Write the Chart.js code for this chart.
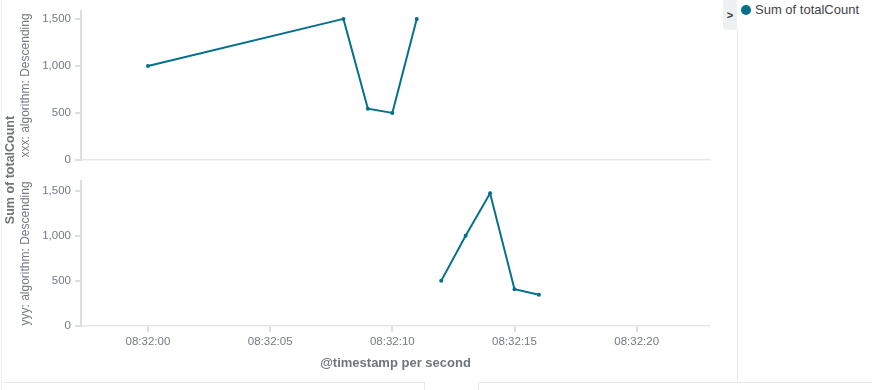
<!DOCTYPE html>
<html>
<head>
<meta charset="utf-8">
<script src="https://cdn.jsdelivr.net/npm/chart.js@4/dist/chart.umd.min.js"></script>
<style>
  body { margin: 0; background: #fff; font-family: "Liberation Sans", Arial, sans-serif; }
  #wrap { position: relative; width: 872px; height: 390px; overflow: hidden; background: #fff; }
  #topBox { position: absolute; left: 0; top: 0; width: 722px; height: 172px; }
  #botBox { position: absolute; left: 0; top: 170px; width: 722px; height: 220px; }
  .bar { position: absolute; background: #e6e8ea; }
  #sumLabel {
    position: absolute; left: 10px; top: 170px; white-space: nowrap;
    transform: translate(-50%, -50%) rotate(-90deg);
    font-weight: bold; font-size: 12.5px; color: #6f757b;
  }
  #toggle {
    position: absolute; left: 723px; top: 0; width: 14px; height: 30px;
    background: #eef0f2; border-bottom-left-radius: 4px;
    font-size: 11px; font-weight: bold; color: #333; text-align: center; line-height: 30px;
  }
  #legend { position: absolute; left: 741px; top: 2px; font-size: 13px; color: #3f4449; white-space: nowrap; }
  #legend .dot { display: inline-block; width: 10px; height: 10px; border-radius: 50%; vertical-align: -1px; margin-right: 4px; }
</style>
</head>
<body>
<div id="wrap">
  <div id="topBox"><canvas id="topChart"></canvas></div>
  <div id="botBox"><canvas id="botChart"></canvas></div>
  <div id="sumLabel">Sum of totalCount</div>
  <div id="toggle">&gt;</div>
  <div id="legend"></div>
  <div class="bar" style="left:1px;top:0;width:1px;height:390px;background:#eef0f2"></div>
  <div class="bar" style="left:737px;top:30px;width:1px;height:352px;"></div>
  <div class="bar" style="left:2px;top:382px;width:422px;height:1px;"></div>
  <div class="bar" style="left:424px;top:382px;width:1px;height:8px;"></div>
  <div class="bar" style="left:478px;top:382px;width:1px;height:8px;"></div>
  <div class="bar" style="left:478px;top:382px;width:394px;height:1px;"></div>
</div>
<script>
// data
var seriesName = 'Sum of totalCount';
var rowLabels = ['xxx: algorithm: Descending', 'yyy: algorithm: Descending'];
var topTimes = ['08:32:00', '08:32:08', '08:32:09', '08:32:10', '08:32:11'];
var topValues = [1000, 1500, 545, 500, 1500];
var bottomTimes = ['08:32:12', '08:32:13', '08:32:14', '08:32:15', '08:32:16'];
var bottomValues = [500, 1000, 1470, 407, 346];
var xTicks = ['08:32:00', '08:32:05', '08:32:10', '08:32:15', '08:32:20'];
var yTicks = [0, 500, 1000, 1500];

var lineColor = '#04708e';
var textColor = '#737a82';
var axisGrey = '#dcdfe2';
Chart.defaults.font.family = '"Liberation Sans", Arial, sans-serif';

var base = toSec('08:32:00');
function toSec(t) {
  var p = t.split(':');
  return (+p[0]) * 3600 + (+p[1]) * 60 + (+p[2]);
}
function fmt(s) {
  var v = base + s;
  var h = Math.floor(v / 3600), m = Math.floor(v / 60) % 60, sec = v % 60;
  return [h, m, sec].map(function (n) { return (n < 10 ? '0' : '') + n; }).join(':');
}
function points(times, vals) {
  return times.map(function (t, i) { return { x: toSec(t) - base, y: vals[i] }; });
}

var xMin = -2.74, xMax = 23;

function makeChart(id, times, vals, rowLabel, yMax, isBottom) {
  return new Chart(document.getElementById(id), {
    type: 'line',
    data: {
      datasets: [{
        label: seriesName,
        data: points(times, vals),
        borderColor: lineColor,
        backgroundColor: lineColor,
        borderWidth: 2,
        pointRadius: 2,
        pointBorderWidth: 0,
        tension: 0
      }]
    },
    options: {
      responsive: true,
      maintainAspectRatio: false,
      animation: false,
      layout: { padding: isBottom ? { top: 6, right: 12, bottom: 0, left: 0 } : { top: 10, right: 12, bottom: 12, left: 0 } },
      plugins: { legend: { display: false }, tooltip: { enabled: false } },
      scales: {
        x: {
          type: 'linear',
          min: xMin,
          max: xMax,
          afterBuildTicks: function (s) { s.ticks = xTicks.map(function (t) { return { value: toSec(t) - base }; }); },
          afterFit: function (s) { s.height = isBottom ? 64 : 0; },
          border: { display: true, color: '#e6e8ea', width: 1.5 },
          grid: { display: isBottom, drawOnChartArea: false, tickLength: 6, color: axisGrey, lineWidth: 2 },
          ticks: {
            display: isBottom,
            padding: 3,
            color: textColor,
            font: { size: 11.5 },
            maxRotation: 0,
            callback: function (v) { return fmt(v); }
          },
          title: {
            display: isBottom,
            text: '@timestamp per second',
            color: '#6f757b',
            font: { size: 13, weight: 'bold' },
            padding: { top: 0, bottom: 19 }
          }
        },
        y: {
          min: 0,
          max: yMax,
          afterBuildTicks: function (s) { s.ticks = yTicks.map(function (v) { return { value: v }; }); },
          afterFit: function (s) { s.width = 81; },
          border: { display: true, color: axisGrey, width: 2 },
          grid: { drawOnChartArea: false, tickLength: 6, color: axisGrey, lineWidth: 2 },
          ticks: {
            padding: 4,
            color: textColor,
            font: { size: 11.5 },
            callback: function (v) { return v.toLocaleString('en-US'); }
          },
          title: {
            display: true,
            text: rowLabel,
            color: textColor,
            font: { size: 12 },
            padding: { top: 18, bottom: 0 }
          }
        }
      }
    }
  });
}

makeChart('topChart', topTimes, topValues, rowLabels[0], 1585, false);
makeChart('botChart', bottomTimes, bottomValues, rowLabels[1], 1607, true);

document.getElementById('legend').innerHTML =
  '<span class="dot" style="background:' + lineColor + '"></span>' + seriesName;
</script>
</body>
</html>
